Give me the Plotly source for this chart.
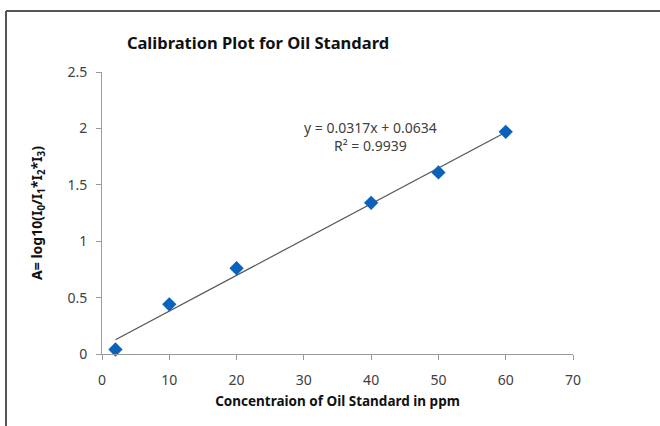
import plotly.graph_objects as go

# Data
concentration_ppm = [2, 10, 20, 40, 50, 60]
absorbance = [0.04, 0.44, 0.76, 1.34, 1.61, 1.97]
trend_slope = 0.0317
trend_intercept = 0.0634
r_squared = 0.9939
x_ticks = [0, 10, 20, 30, 40, 50, 60, 70]
y_ticks = [0, 0.5, 1, 1.5, 2, 2.5]

trend_x = [min(concentration_ppm), max(concentration_ppm)]
trend_y = [trend_slope * v + trend_intercept for v in trend_x]

FONT = "Noto Sans"
TXT = "#404040"
AX = "#9a9a9a"

# plot area target on screen: x 102..573, y 72..354
L, T, PW, PH = 102, 72, 471, 282
W, H = 660, 426


def px(xp):
    return (xp - L) / PW


def py(yp):
    return (T + PH - yp) / PH


fig = go.Figure()
fig.add_trace(go.Scatter(
    x=trend_x, y=trend_y, mode="lines",
    line=dict(color="#555555", width=1.2), hoverinfo="skip", showlegend=False,
))
fig.add_trace(go.Scatter(
    x=concentration_ppm, y=absorbance, mode="markers",
    marker=dict(symbol="diamond", size=11, color="#0a62bc"),
    cliponaxis=False, showlegend=False,
))

fig.update_layout(
    width=W, height=H,
    margin=dict(l=L, r=W - L - PW, t=T, b=H - T - PH),
    paper_bgcolor="white", plot_bgcolor="white",
    font=dict(family=FONT, color=TXT, size=14),
    title=dict(text="<b>Calibration Plot for Oil Standard</b>",
               x=px(258), xanchor="center", xref="paper",
               y=1 - 43 / H, yanchor="middle",
               font=dict(size=16.5, color="#111111", family=FONT)),
    xaxis=dict(range=[0, 70], tickvals=x_ticks, ticktext=[str(v) for v in x_ticks],
               showgrid=False, zeroline=False, showline=True, linecolor=AX, linewidth=1,
               ticks="outside", ticklen=5, tickcolor=AX, ticklabelstandoff=8,
               tickfont=dict(size=14, color=TXT),
               title=dict(text="<b>Concentraion of Oil Standard in ppm</b>",
                          font=dict(size=13.5, color="#111111"), standoff=8)),
    yaxis=dict(range=[0, 2.5], tickvals=y_ticks, ticktext=["0", "0.5", "1", "1.5", "2", "2.5"],
               showgrid=False, zeroline=False, showline=True, linecolor=AX, linewidth=1,
               ticks="outside", ticklen=5, tickcolor=AX, ticklabelstandoff=6,
               tickfont=dict(size=14, color=TXT),
               title=dict(text="<b>A= log10(I<sub>0</sub>/I<sub>1</sub>*I<sub>2</sub>*I<sub>3</sub>)</b>",
                          font=dict(size=14, color="#111111"), standoff=21)),
    annotations=[
        dict(text=f"y = {trend_slope}x + {trend_intercept}<br>R² = {r_squared}",
             xref="paper", yref="paper", x=px(370), y=py(136),
             xanchor="center", yanchor="middle", showarrow=False, align="center",
             font=dict(size=14, color=TXT, family=FONT)),
    ],
    shapes=[
        dict(type="line", xref="paper", yref="paper",
             x0=px(6), x1=px(6), y0=-1, y1=py(11),
             line=dict(color="#555555", width=2)),
        dict(type="line", xref="paper", yref="paper",
             x0=px(6), x1=2, y0=py(11), y1=py(11),
             line=dict(color="#555555", width=2)),
    ],
)

fig.write_html("out.html",
               config={"displayModeBar": False},
               post_script="document.body.style.margin='0';document.body.style.padding='0';")
